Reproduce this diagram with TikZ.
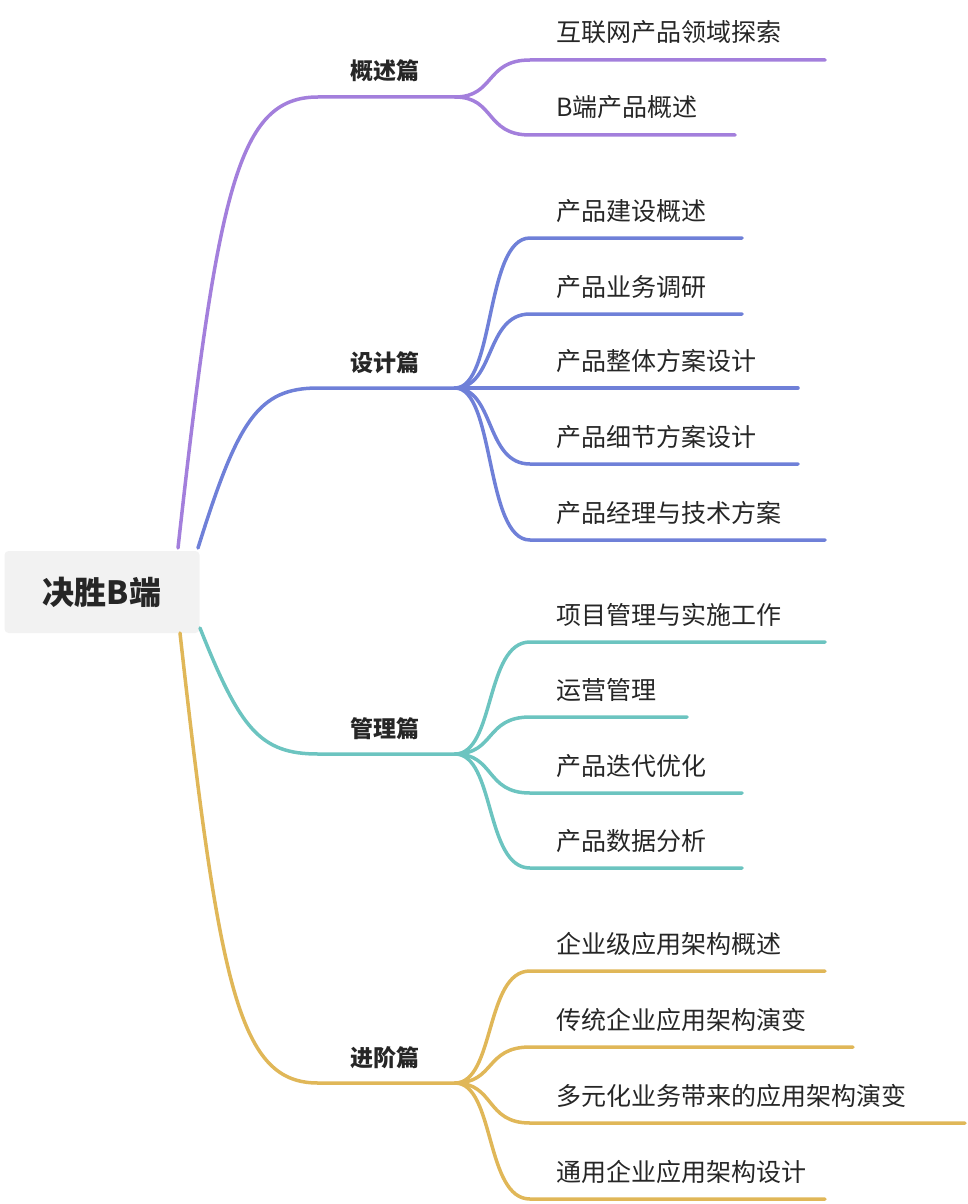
\documentclass[tikz,border=0pt]{standalone}
\usepackage{fontspec}
\setmainfont{Noto Sans CJK SC}
\begin{document}
\begin{tikzpicture}[x=1pt,y=-1pt,
  br/.style={line width=3.5pt,line cap=round},
  leaf/.style={anchor=base west,font=\fontsize{25}{25}\selectfont,text=black!85,inner sep=0},
  mid/.style={anchor=base,font=\fontsize{23}{23}\selectfont\bfseries,text=black!85,inner sep=0}]
\definecolor{cP}{HTML}{A37FDC}\definecolor{cB}{HTML}{6F80D8}
\definecolor{cT}{HTML}{6CC4C0}\definecolor{cY}{HTML}{E0B758}
\useasboundingbox (0,0) rectangle (968,1204);
\node[fill=black!5,rounded corners=4pt,minimum width=195pt,minimum height=82pt,text=black!85,font=\fontsize{32}{32}\selectfont\bfseries] (root) at (102,592) {决胜B端};
\newcommand\mybranch[6]{%
  \node[mid] (#2) at (385,#4-17) {#3};
  \coordinate (#2a) at (318,#4); \coordinate (#2b) at (455,#4);
  \draw[br,#1] (#5,#6) .. controls (#5+40,{#6+(#4-#6)*0.8}) and (#5+60,#4) .. (#2a) -- (#2b);}
\newcommand\myleaf[6]{%
  \node[leaf] (#3) at (556,#4-18) {#6};
  \coordinate (#3e) at (#5,#4);
  \draw[br,#1] (#2b) .. controls +(40,0) and (485,#4) .. (530,#4) -- (#3e);}
\mybranch{cP}{g}{概述篇}{97}{178}{548}
\myleaf{cP}{g}{g1}{60}{825}{互联网产品领域探索}
\myleaf{cP}{g}{g2}{135}{735}{B端产品概述}
\mybranch{cB}{s}{设计篇}{388}{198}{548}
\myleaf{cB}{s}{s1}{238}{742}{产品建设概述}
\myleaf{cB}{s}{s2}{314}{742}{产品业务调研}
\myleaf{cB}{s}{s3}{388}{798}{产品整体方案设计}
\myleaf{cB}{s}{s4}{464}{798}{产品细节方案设计}
\myleaf{cB}{s}{s5}{540}{825}{产品经理与技术方案}
\mybranch{cT}{m}{管理篇}{754}{200}{628}
\myleaf{cT}{m}{m1}{642}{825}{项目管理与实施工作}
\myleaf{cT}{m}{m2}{717}{687}{运营管理}
\myleaf{cT}{m}{m3}{793}{742}{产品迭代优化}
\myleaf{cT}{m}{m4}{868}{742}{产品数据分析}
\mybranch{cY}{j}{进阶篇}{1083}{180}{633}
\myleaf{cY}{j}{j1}{971}{825}{企业级应用架构概述}
\myleaf{cY}{j}{j2}{1047}{853}{传统企业应用架构演变}
\myleaf{cY}{j}{j3}{1123}{965}{多元化业务带来的应用架构演变}
\myleaf{cY}{j}{j4}{1199}{825}{通用企业应用架构设计}
\end{tikzpicture}
\end{document}
